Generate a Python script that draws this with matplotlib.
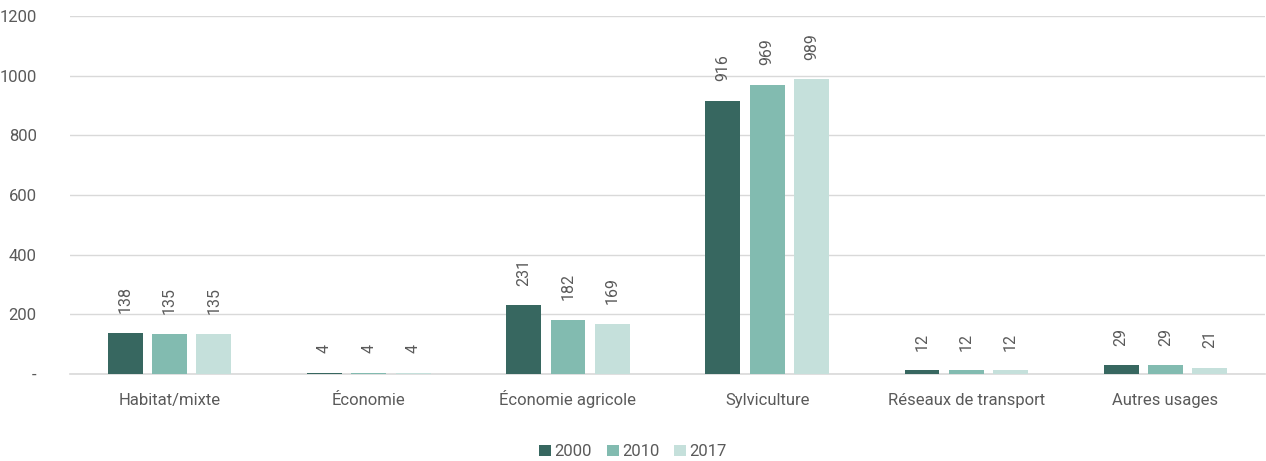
import numpy as np
import matplotlib.pyplot as plt
from matplotlib.ticker import FuncFormatter

plt.rcParams['font.family'] = ['Roboto', 'DejaVu Sans']

# Data
categories = ['Habitat/mixte', 'Économie', 'Économie agricole', 'Sylviculture',
              'Réseaux de transport', 'Autres usages']
years = ['2000', '2010', '2017']
v2000 = [138, 4, 231, 916, 12, 29]
v2010 = [135, 4, 182, 969, 12, 29]
v2017 = [135, 4, 169, 989, 12, 21]
yticks = [0, 200, 400, 600, 800, 1000, 1200]

colors = ['#376760', '#82bbb0', '#c5e0db']
text_col = '#5a5a5a'

fig = plt.figure(figsize=(12.66, 4.61), dpi=100)
ax = fig.add_axes([0.0553, 0.1887, 0.944, 0.7766])

x = np.arange(len(categories))
width = 0.175
step = 0.2225
for i, (vals, col, yr) in enumerate(zip([v2000, v2010, v2017], colors, years)):
    bars = ax.bar(x + (i - 1) * step, vals, width, color=col, label=yr, zorder=3)
    for b, v in zip(bars, vals):
        ax.annotate(str(v), (b.get_x() + b.get_width() / 2, b.get_height()),
                    xytext=(0, 14), textcoords='offset points', rotation=90,
                    ha='center', va='bottom', fontsize=11.5, color=text_col)

ax.set_xlim(-0.5, len(categories) - 0.5)
ax.set_ylim(0, 1200)
ax.set_yticks(yticks)
ax.yaxis.set_major_formatter(FuncFormatter(lambda v, p: '-' if v == 0 else f'{int(v)}'))
ax.set_xticks(x)
ax.set_xticklabels(categories, va='baseline')
ax.tick_params(axis='both', length=0, labelsize=12, labelcolor=text_col)
ax.tick_params(axis='x', pad=22)
ax.tick_params(axis='y', pad=24)

ax.grid(axis='y', color='#d9d9d9', linewidth=1, zorder=0)
for s in ['top', 'right', 'left']:
    ax.spines[s].set_visible(False)
ax.spines['bottom'].set_color('#d9d9d9')
ax.spines['bottom'].set_linewidth(1.2)

leg = fig.legend(loc='center', bbox_to_anchor=(0.5, 0.02), ncol=3, frameon=False,
                 fontsize=12, handlelength=0.7, handleheight=0.7,
                 handletextpad=0.2, columnspacing=0.9)
for t in leg.get_texts():
    t.set_color(text_col)

fig.savefig('out.png', dpi=100)
